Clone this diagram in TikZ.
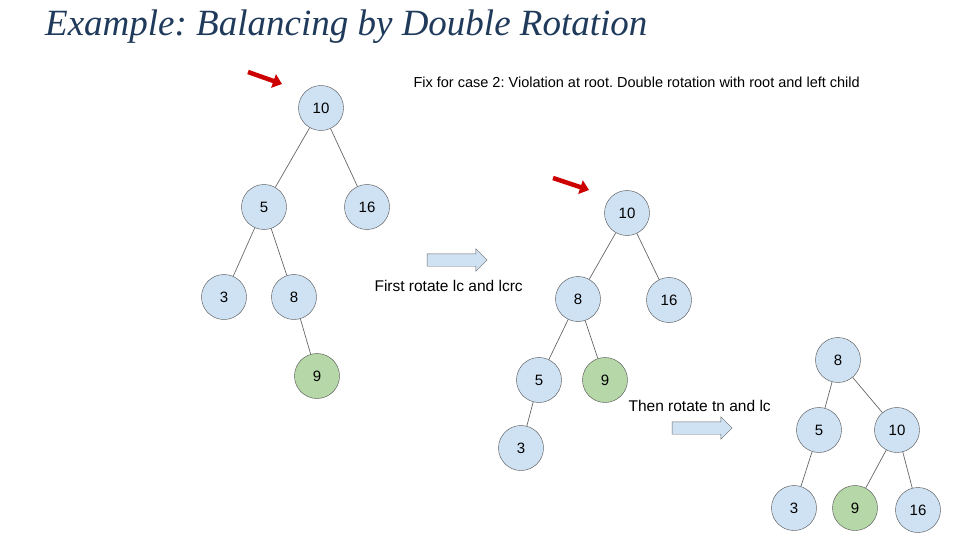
\documentclass[tikz,border=0pt]{standalone}
\usepackage{fontspec}
\setmainfont{Liberation Serif}
\newfontfamily\sansf{Liberation Sans}
\usetikzlibrary{shapes.arrows,arrows.meta}
\definecolor{nodeblue}{HTML}{CFE2F3}
\definecolor{nodegreen}{HTML}{B6D7A8}
\definecolor{titleblue}{HTML}{1F3A5A}
\definecolor{redarrow}{HTML}{CC0000}
\tikzset{
  tn/.style={circle,draw=black!70,fill=nodeblue,minimum size=45pt,inner sep=0pt,font=\sansf\fontsize{15}{15}\selectfont},
  hot/.style={tn,fill=nodegreen},
  edge/.style={draw=black!60,line width=0.7pt},
  note/.style={font=\sansf\fontsize{15.5}{15.5}\selectfont,anchor=west},
  move/.style={single arrow,draw=black!60,fill=nodeblue,minimum height=60pt,inner sep=6pt,single arrow head extend=5pt},
  pointer/.style={draw=redarrow!80!black,line width=4.5pt,-{Triangle[length=9pt,width=14pt]},redarrow}
}
\frenchspacing
\begin{document}
\begin{tikzpicture}[x=1pt,y=-1pt]
  \useasboundingbox (0,0) rectangle (960,540);
  \node[anchor=west,text=titleblue,font=\itshape\fontsize{37}{37}\selectfont,inner sep=0pt] (title) at (45,27) {Example: Balancing by Double Rotation};

  % first tree
  \node[tn] (a10) at (321,108) {10};
  \node[tn] (a5) at (264,207) {5};
  \node[tn] (a16) at (367,207) {16};
  \node[tn] (a3) at (224,297) {3};
  \node[tn] (a8) at (294,297) {8};
  \node[hot] (a9) at (317,376) {9};
  \draw[edge] (a10) -- (a5) (a10) -- (a16) (a5) -- (a3) (a5) -- (a8) (a8) -- (a9);

  % second tree
  \node[tn] (b10) at (627,213) {10};
  \node[tn] (b8) at (578,299) {8};
  \node[tn] (b16) at (669,300) {16};
  \node[tn] (b5) at (539,380) {5};
  \node[hot] (b9) at (605,380) {9};
  \node[tn] (b3) at (521,448) {3};
  \draw[edge] (b10) -- (b8) (b10) -- (b16) (b8) -- (b5) (b8) -- (b9) (b5) -- (b3);

  % third tree
  \node[tn] (c8) at (838,360) {8};
  \node[tn] (c5) at (819,430) {5};
  \node[tn] (c10) at (897,430) {10};
  \node[tn] (c3) at (794,508) {3};
  \node[hot] (c9) at (855,508) {9};
  \node[tn] (c16) at (918,510) {16};
  \draw[edge] (c8) -- (c5) (c8) -- (c10) (c5) -- (c3) (c10) -- (c9) (c10) -- (c16);

  % markers
  \coordinate (m1s) at (248,72); \coordinate (m1e) at (282,84);
  \coordinate (m2s) at (553,178); \coordinate (m2e) at (589,190);
  \draw[pointer] (m1s) -- (m1e);
  \draw[pointer] (m2s) -- (m2e);
  \node[move] (step1) at (454,260) {};
  \node[move] (step2) at (699,428) {};

  \node[note,font=\sansf\fontsize{14.5}{14.5}\selectfont] (fix) at (410,82) {Fix for case 2: Violation at root. Double rotation with root and left child};
  \node[note] (first) at (371,286) {First rotate lc and lcrc};
  \node[note] (then) at (625,406) {Then rotate tn and lc};
\end{tikzpicture}
\end{document}
